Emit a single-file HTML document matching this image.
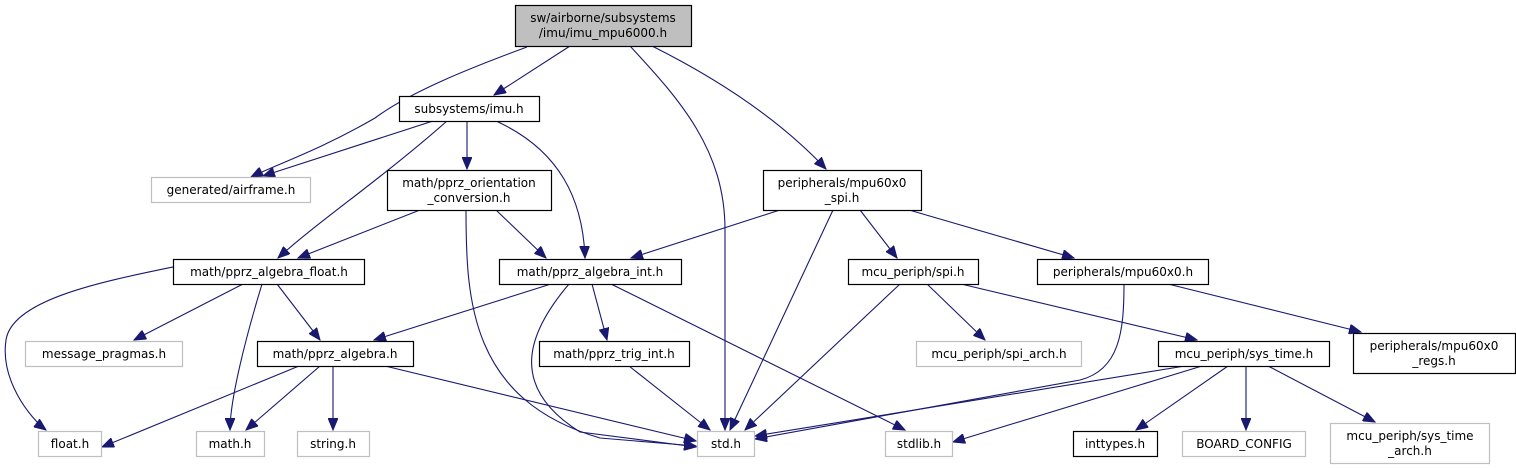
<!DOCTYPE html>
<html><head><meta charset="utf-8"><style>
html,body{margin:0;padding:0;background:#fff;}
svg{display:block;}
text{font-family:"DejaVu Sans","Liberation Sans",sans-serif;font-size:12px;fill:#000;}
</style></head><body>
<svg width="1516" height="469" viewBox="0 0 1516 469" xmlns="http://www.w3.org/2000/svg">
<defs>
<marker id="a" markerWidth="13" markerHeight="10" refX="12" refY="5" orient="auto" markerUnits="userSpaceOnUse">
<path d="M0,0 L12,5 L0,10 Z" fill="#191970" stroke="#191970"/>
</marker>
</defs>
<g fill="none" stroke="#191970" stroke-width="1.1" marker-end="url(#a)">
<path d="M527,47 C470,68 410,92 375,118 C320,150 275,165 251,177"/>
<path d="M570,46 L494,95"/>
<path d="M630,46 C680,100 725,150 725,230 L725,430"/>
<path d="M652,46 C720,80 780,120 826,169"/>
<path d="M433,121 L263,176"/>
<path d="M447,121 C380,180 320,220 278,258"/>
<path d="M467,121 L467,169"/>
<path d="M496,121 C560,150 583,200 585,258"/>
<path d="M420,210 L298,258"/>
<path d="M496,210 L546,258"/>
<path d="M466,210 C466,300 470,400 600,438 L696,446"/>
<path d="M780,210 L631,258"/>
<path d="M833,210 L730,430"/>
<path d="M860,210 L897,258"/>
<path d="M909,210 L1074,258"/>
<path d="M173,267 C100,282 12,300 6,340 C0,380 30,418 46,430"/>
<path d="M243,284 L134,340"/>
<path d="M262,284 C245,340 230,400 230,430"/>
<path d="M277,284 L320,340"/>
<path d="M551,284 L374,340"/>
<path d="M569,284 C530,330 505,385 580,432 L696,447"/>
<path d="M592,284 L607,340"/>
<path d="M611,284 L905,430"/>
<path d="M299,366 L102,447"/>
<path d="M320,366 L246,430"/>
<path d="M333,366 L333,430"/>
<path d="M385,366 L696,441"/>
<path d="M629,366 L710,430"/>
<path d="M900,284 L745,430"/>
<path d="M927,284 L985,340"/>
<path d="M961,284 L1197,340"/>
<path d="M1124,284 C1124,330 1120,370 1080,380 L755,439"/>
<path d="M1168,284 L1361,332"/>
<path d="M1185,366 L755,436"/>
<path d="M1202,366 L953,442"/>
<path d="M1228,366 L1136,430"/>
<path d="M1246,366 L1246,430"/>
<path d="M1268,366 L1375,422"/>
</g>
<g stroke-width="1.2">
<rect x="515.5" y="5.5" width="176" height="41" fill="#bfbfbf" stroke="#000"/>
<rect x="399.5" y="96.5" width="140" height="25" fill="#fff" stroke="#000"/>
<rect x="151.5" y="177.5" width="159" height="25" fill="#fff" stroke="#bfbfbf"/>
<rect x="387.5" y="170.5" width="164" height="40" fill="#fff" stroke="#000"/>
<rect x="763.5" y="170.5" width="158" height="40" fill="#fff" stroke="#000"/>
<rect x="173.5" y="259.5" width="191" height="25" fill="#fff" stroke="#000"/>
<rect x="499.5" y="259.5" width="182" height="25" fill="#fff" stroke="#000"/>
<rect x="848.5" y="259.5" width="130" height="25" fill="#fff" stroke="#000"/>
<rect x="1037.5" y="259.5" width="171" height="25" fill="#fff" stroke="#000"/>
<rect x="25.5" y="341.5" width="157" height="25" fill="#fff" stroke="#bfbfbf"/>
<rect x="257.5" y="341.5" width="156" height="25" fill="#fff" stroke="#000"/>
<rect x="539.5" y="341.5" width="150" height="25" fill="#fff" stroke="#000"/>
<rect x="916.5" y="341.5" width="165" height="25" fill="#fff" stroke="#bfbfbf"/>
<rect x="1158.5" y="341.5" width="171" height="25" fill="#fff" stroke="#000"/>
<rect x="1353.5" y="333.5" width="162" height="40" fill="#fff" stroke="#000"/>
<rect x="38.5" y="431.5" width="63" height="25" fill="#fff" stroke="#bfbfbf"/>
<rect x="196.5" y="431.5" width="68" height="25" fill="#fff" stroke="#bfbfbf"/>
<rect x="297.5" y="431.5" width="72" height="25" fill="#fff" stroke="#bfbfbf"/>
<rect x="697.5" y="431.5" width="57" height="25" fill="#fff" stroke="#bfbfbf"/>
<rect x="885.5" y="431.5" width="67" height="25" fill="#fff" stroke="#bfbfbf"/>
<rect x="1073.5" y="431.5" width="84" height="25" fill="#fff" stroke="#000"/>
<rect x="1182.5" y="431.5" width="123" height="25" fill="#fff" stroke="#bfbfbf"/>
<rect x="1330.5" y="423.5" width="159" height="40" fill="#fff" stroke="#bfbfbf"/>
</g>
<g text-anchor="middle">
<text x="603" y="22">sw/airborne/subsystems</text>
<text x="603" y="37">/imu/imu_mpu6000.h</text>
<text x="469" y="113">subsystems/imu.h</text>
<text x="231" y="194">generated/airframe.h</text>
<text x="469" y="187">math/pprz_orientation</text>
<text x="469" y="202">_conversion.h</text>
<text x="842" y="187">peripherals/mpu60x0</text>
<text x="842" y="202">_spi.h</text>
<text x="269" y="276">math/pprz_algebra_float.h</text>
<text x="590" y="276">math/pprz_algebra_int.h</text>
<text x="913" y="276">mcu_periph/spi.h</text>
<text x="1123" y="276">peripherals/mpu60x0.h</text>
<text x="104" y="358">message_pragmas.h</text>
<text x="335" y="358">math/pprz_algebra.h</text>
<text x="614" y="358">math/pprz_trig_int.h</text>
<text x="999" y="358">mcu_periph/spi_arch.h</text>
<text x="1244" y="358">mcu_periph/sys_time.h</text>
<text x="1434" y="350">peripherals/mpu60x0</text>
<text x="1434" y="365">_regs.h</text>
<text x="70" y="448">float.h</text>
<text x="230" y="448">math.h</text>
<text x="333" y="448">string.h</text>
<text x="726" y="448">std.h</text>
<text x="919" y="448">stdlib.h</text>
<text x="1115" y="448">inttypes.h</text>
<text x="1244" y="448">BOARD_CONFIG</text>
<text x="1410" y="440">mcu_periph/sys_time</text>
<text x="1410" y="455">_arch.h</text>
</g>
</svg>
</body></html>
